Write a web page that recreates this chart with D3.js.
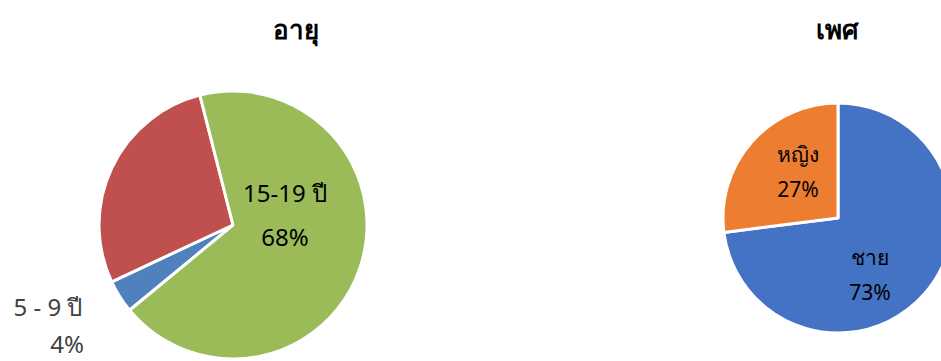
<!DOCTYPE html>
<html>
<head>
<meta charset="utf-8">
<script src="https://cdn.jsdelivr.net/npm/d3@7"></script>
<style>
  body { margin: 0; background: #fff; }
  svg text { font-family: 'Noto Sans', 'DejaVu Sans', sans-serif; }
</style>
</head>
<body>
<svg id="chart" width="941" height="361"></svg>
<script>
const ageLabels = ['5 - 9 ปี', '10-14 ปี', '15-19 ปี']
const ageValues = [4, 28, 68]
const ageColors = ['#4f81bd', '#c0504d', '#9bbb59']

const sexLabels = ['ชาย', 'หญิง']
const sexValues = [73, 27]
const sexColors = ['#4472c4', '#ed7d31']

const svg = d3.select('#chart')

function drawPie (opts) {
  const g = svg.append('g')
    .attr('transform', 'translate(' + opts.cx + ',' + opts.cy + ')')

  const pie = d3.pie()
    .sort(null)
    .startAngle(opts.start)
    .endAngle(opts.start + Math.PI * 2)
  const arcs = pie(opts.values)

  const arc = d3.arc().innerRadius(0).outerRadius(opts.r)

  g.selectAll('path')
    .data(arcs)
    .enter()
    .append('path')
    .attr('d', arc)
    .attr('fill', (d, i) => opts.colors[i])
    .attr('stroke', '#fff')
    .attr('stroke-width', 3)
    .attr('stroke-linejoin', 'round')

  svg.append('text')
    .attr('x', opts.titleX)
    .attr('y', 39)
    .attr('text-anchor', 'middle')
    .attr('font-size', 26)
    .attr('font-weight', 'bold')
    .attr('fill', '#000')
    .text(opts.title)

  // label spots are placed by hand like the excel chart
  opts.labels.forEach((lb, i) => {
    if (!lb) return
    const t = svg.append('text')
      .attr('text-anchor', 'middle')
      .attr('font-size', opts.fontSize)
      .attr('fill', lb.outside ? '#404040' : '#000')
    t.append('tspan')
      .attr('x', lb.x)
      .attr('y', lb.y)
      .text(opts.names[i])
    t.append('tspan')
      .attr('x', lb.x + (lb.dx2 || 0))
      .attr('y', lb.y + (lb.gap || opts.lineGap))
      .text(opts.values[i] + '%')
  })
}

drawPie({
  cx: 233, cy: 225, r: 134,
  start: 230.5 * Math.PI / 180,
  values: ageValues, names: ageLabels, colors: ageColors,
  title: 'อายุ', titleX: 296,
  fontSize: 24, lineGap: 44,
  labels: [
    { outside: true, x: 48, y: 316, dx2: 19, gap: 37 },
    null,
    { x: 285, y: 202 }
  ]
})

drawPie({
  cx: 838, cy: 218, r: 115,
  start: 0,
  values: sexValues, names: sexLabels, colors: sexColors,
  title: 'เพศ', titleX: 837,
  fontSize: 21, lineGap: 35,
  labels: [
    { x: 870, y: 265 },
    { x: 798, y: 162 }
  ]
})
</script>
</body>
</html>
